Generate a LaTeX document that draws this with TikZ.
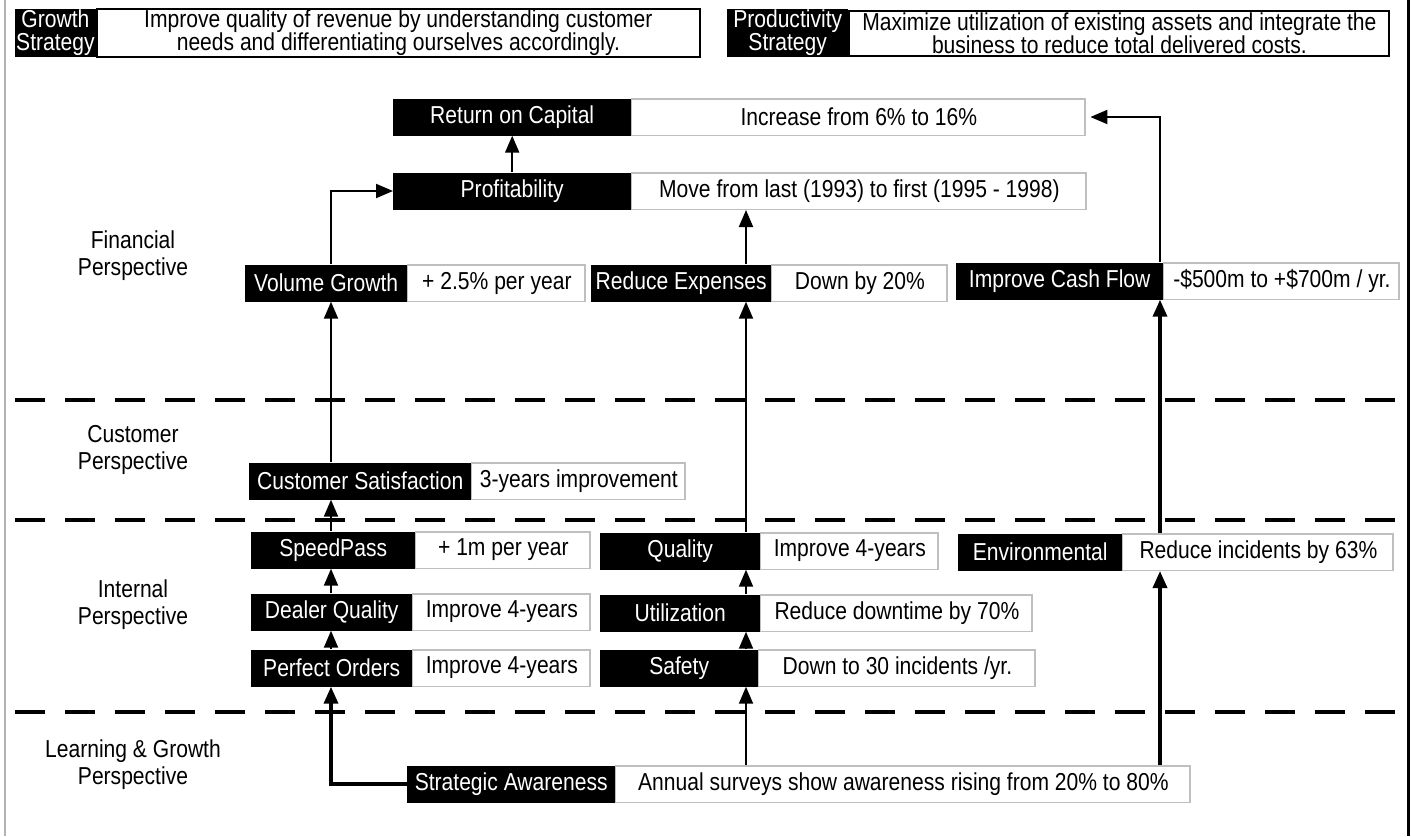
\documentclass[tikz,border=0pt]{standalone}
\usepackage{fontspec}
\setmainfont{Liberation Sans}[FakeStretch=0.86]
\usetikzlibrary{positioning}
\usetikzlibrary{arrows.meta}

\tikzset{
  keybox/.style={fill=black, text=white, inner sep=1pt, minimum height=37pt, anchor=west},
  valbox/.style={fill=white, draw=black!25, line width=1pt, inner sep=1pt, minimum height=37pt,
    path picture={\draw[line width=3.5pt] (path picture bounding box.north west) -- (path picture bounding box.north east) -- (path picture bounding box.south east);}},
  stratval/.style={fill=white, draw=black, line width=2pt, inner sep=1pt, minimum height=45pt, align=center},
  link/.style={line width=2pt, -{Triangle[length=17pt,width=14pt]}},
  biglink/.style={line width=3.5pt, -{Triangle[length=17pt,width=14pt]}},
  layer/.style={line width=4pt, dash pattern=on 30pt off 20pt},
  persp/.style={align=center, font=\fontsize{24.5}{27}\selectfont}
}

\begin{document}
\begin{tikzpicture}[x=1pt, y=-1pt, font=\fontsize{24.5}{23}\selectfont]
  \useasboundingbox (0,0) rectangle (1411,836);
  % frame
  \draw[black!30, line width=1.5pt] (5,0) -- (5,836);
  \draw[line width=3pt] (1408,0) -- (1408,836);

  % layers
  \draw[layer] (15,400) -- (1405,400);
  \draw[layer] (15,520) -- (1405,520);
  \draw[layer] (15,712) -- (1405,712);

  % strategies
  \node[keybox, minimum width=77pt, minimum height=45pt, align=center] (growth) at (15,33) {Growth\\Strategy};
  \node[stratval, right=0pt of growth, minimum width=603pt] (growthv) {Improve quality of revenue by understanding customer\\needs and differentiating ourselves accordingly.};
  \node[keybox, minimum width=121pt, minimum height=45pt, align=center] (product) at (727,33) {Productivity\\Strategy};
  \node[stratval, right=0pt of product, minimum width=540pt] (productv) {Maximize utilization of existing assets and integrate the\\business to reduce total delivered costs.};

  % perspectives
  \node[persp] (finp) at (133,256) {Financial\\Perspective};
  \node[persp] (cusp) at (133,450) {Customer\\Perspective};
  \node[persp] (intp) at (133,605) {Internal\\Perspective};
  \node[persp] (lrnp) at (133,765) {Learning \& Growth\\Perspective};

  % financial
  \node[keybox, minimum width=238pt] (rocap) at (393,117) {Return on Capital};
  \node[valbox, right=0pt of rocap, minimum width=454pt] (rocapv) {Increase from 6\% to 16\%};
  \node[keybox, minimum width=238pt] (profit) at (393,191) {Profitability};
  \node[valbox, right=0pt of profit, minimum width=455pt] (profitv) {Move from last (1993) to first (1995 - 1998)};
  \node[keybox, minimum width=162pt] (volgrow) at (245,283) {Volume Growth};
  \node[valbox, right=0pt of volgrow, minimum width=178pt] (volgrowv) {+ 2.5\% per year};
  \node[keybox, minimum width=180pt] (redexp) at (591,283) {Reduce Expenses};
  \node[valbox, right=0pt of redexp, minimum width=176pt] (redexpv) {Down by 20\%};
  \node[keybox, minimum width=207pt] (cashfl) at (956,281) {Improve Cash Flow};
  \node[valbox, right=0pt of cashfl, minimum width=236pt] (cashflv) {-\$500m to +\$700m / yr.};

  % customer
  \node[keybox, minimum width=222pt] (custsat) at (249,481) {Customer Satisfaction};
  \node[valbox, right=0pt of custsat, minimum width=214pt] (custsatv) {3-years improvement};

  % internal
  \node[keybox, minimum width=164pt] (speedp) at (251,550) {SpeedPass};
  \node[valbox, right=0pt of speedp, minimum width=175pt] (speedpv) {+ 1m per year};
  \node[keybox, minimum width=161pt] (dealerq) at (251,612) {Dealer Quality};
  \node[valbox, right=0pt of dealerq, minimum width=178pt] (dealerqv) {Improve 4-years};
  \node[keybox, minimum width=161pt] (perford) at (251,668) {Perfect Orders};
  \node[valbox, right=0pt of perford, minimum width=178pt] (perfordv) {Improve 4-years};
  \node[keybox, minimum width=160pt] (quality) at (600,551) {Quality};
  \node[valbox, right=0pt of quality, minimum width=178pt] (qualityv) {Improve 4-years};
  \node[keybox, minimum width=160pt] (utiliz) at (600,613) {Utilization};
  \node[valbox, right=0pt of utiliz, minimum width=272pt] (utilizv) {Reduce downtime by 70\%};
  \node[keybox, minimum width=158pt] (safety) at (600,668) {Safety};
  \node[valbox, right=0pt of safety, minimum width=277pt] (safetyv) {Down to 30 incidents /yr.};
  \node[keybox, minimum width=164pt] (environ) at (958,552) {Environmental};
  \node[valbox, right=0pt of environ, minimum width=271pt] (environv) {Reduce incidents by 63\%};

  % learning & growth
  \node[keybox, minimum width=208pt] (strataw) at (407,784) {Strategic Awareness};
  \node[valbox, right=0pt of strataw, minimum width=575pt] (stratawv) {Annual surveys show awareness rising from 20\% to 80\%};

  % columns of links
  \coordinate (leftcol) at (331,0);
  \coordinate (midcol) at (746,0);
  \coordinate (rightcol) at (1160,0);

  \draw[link] (profit.north) -- (rocap.south);
  \draw[link] (volgrow.north -| leftcol) |- (profit.west);
  \draw[link] (custsat.north -| leftcol) -- (volgrow.south -| leftcol);
  \draw[link] (speedp.north -| leftcol) -- (custsat.south -| leftcol);
  \draw[link] (dealerq.north -| leftcol) -- (speedp.south -| leftcol);
  \draw[link] (perford.north -| leftcol) -- (dealerq.south -| leftcol);
  \draw[biglink] (strataw.west) -| (perford.south -| leftcol);

  \draw[link] (redexp.north -| midcol) -- (profitv.south -| midcol);
  \draw[link] (quality.north -| midcol) -- (redexp.south -| midcol);
  \draw[link] (utiliz.north -| midcol) -- (quality.south -| midcol);
  \draw[link] (safety.north -| midcol) -- (utiliz.south -| midcol);
  \draw[link] (stratawv.north -| midcol) -- (safety.south -| midcol);

  \draw[link, shorten >=4pt] (cashfl.north -| rightcol) |- (rocapv.east);
  \draw[biglink] (environ.north -| rightcol) -- (cashfl.south -| rightcol);
  \draw[biglink] (stratawv.north -| rightcol) -- (environv.south -| rightcol);
\end{tikzpicture}
\end{document}
